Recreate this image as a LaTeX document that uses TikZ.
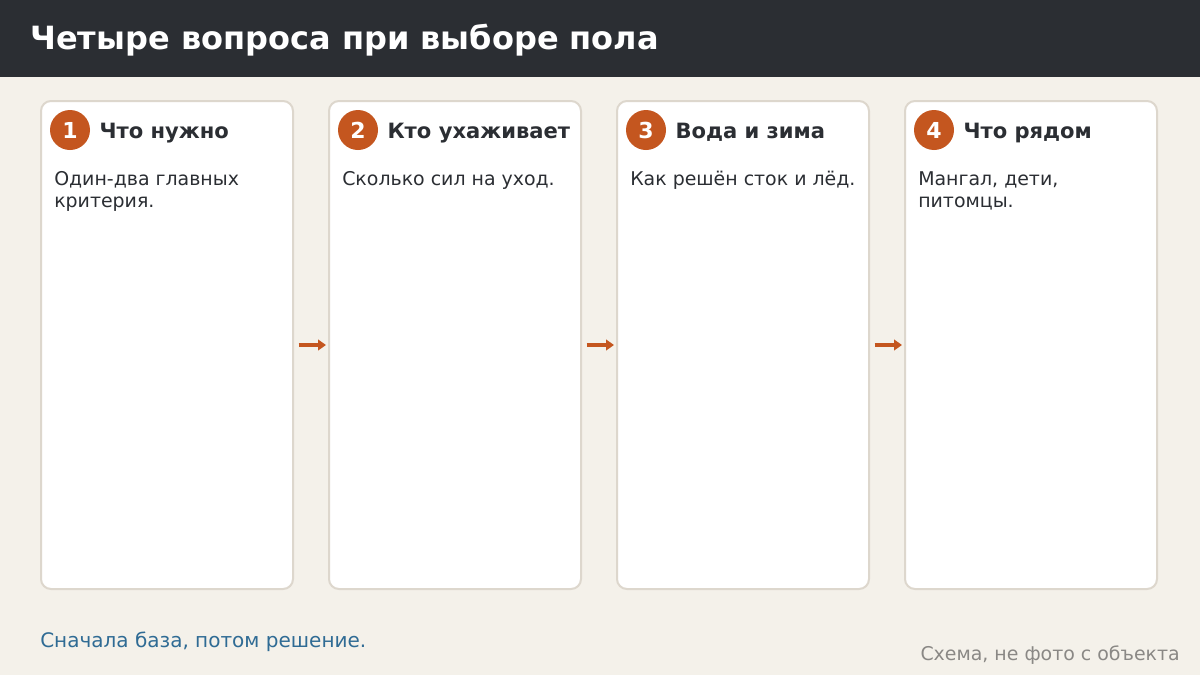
\documentclass[tikz,border=0pt]{standalone}
\usepackage{fontspec}
\setmainfont{DejaVu Sans}
\usetikzlibrary{positioning,arrows.meta}

\definecolor{pageBg}{HTML}{F4F1EA}
\definecolor{headBg}{HTML}{2B2E33}
\definecolor{cardLine}{HTML}{DDD7CD}
\definecolor{rust}{HTML}{C4561F}
\definecolor{ink}{HTML}{2B2E33}
\definecolor{noteBlue}{HTML}{2F6B94}
\definecolor{srcGray}{HTML}{8A8885}

\tikzset{
    card/.style={draw=cardLine, line width=1.5pt, fill=white, rounded corners=7.5pt,
        minimum width=189pt, minimum height=366pt, inner sep=0pt},
    badge/.style={circle, fill=rust, minimum size=30pt, inner sep=0pt,
        text=white, font=\bfseries\fontsize{16.5}{18}\selectfont},
    cardhead/.style={text=ink, anchor=base west, font=\bfseries\fontsize{15.8}{19}\selectfont, inner sep=0pt},
    cardbody/.style={text=ink, anchor=north west, align=left, font=\fontsize{14.2}{16.5}\selectfont, inner sep=0pt},
    flow/.style={draw=rust, line width=3pt, -{Triangle[length=6pt,width=8pt]},
        shorten <=3.5pt, shorten >=1.5pt},
}

\begin{document}
\begin{tikzpicture}[x=0.75pt, y=-0.75pt]
    \useasboundingbox (0,0) rectangle (1200,675);
    \fill[pageBg] (0,0) rectangle (1200,675);
    \fill[headBg] (0,0) rectangle (1200,77);
    \node[anchor=west, inner sep=0pt, text=white,
        font=\bfseries\fontsize{24}{28}\selectfont] (title) at (30,40)
        {Четыре вопроса при выборе пола};

    % cards
    \node[card] (card1) at (167,345) {};
    \node[card, right=25.5pt of card1] (card2) {};
    \node[card, right=25.5pt of card2] (card3) {};
    \node[card, right=25.5pt of card3] (card4) {};

    \node[badge] (badge1) at ([shift={(30,30)}]card1.north west) {1};
    \node[badge] (badge2) at ([shift={(30,30)}]card2.north west) {2};
    \node[badge] (badge3) at ([shift={(30,30)}]card3.north west) {3};
    \node[badge] (badge4) at ([shift={(30,30)}]card4.north west) {4};

    \node[cardhead] (head1) at ([shift={(9,8)}]badge1.east) {Что нужно};
    \node[cardhead] (head2) at ([shift={(9,8)}]badge2.east) {Кто ухаживает};
    \node[cardhead] (head3) at ([shift={(9,8)}]badge3.east) {Вода и зима};
    \node[cardhead] (head4) at ([shift={(9,8)}]badge4.east) {Что рядом};

    \node[cardbody] (body1) at ([shift={(14,71)}]card1.north west)
        {Один-два главных\\критерия.};
    \node[cardbody] (body2) at ([shift={(14,71)}]card2.north west)
        {Сколько сил на уход.};
    \node[cardbody] (body3) at ([shift={(14,71)}]card3.north west)
        {Как решён сток и лёд.};
    \node[cardbody] (body4) at ([shift={(14,71)}]card4.north west)
        {Мангал, дети,\\питомцы.};

    \draw[flow] (card1) -- (card2);
    \draw[flow] (card2) -- (card3);
    \draw[flow] (card3) -- (card4);

    % footer
    \node[anchor=west, inner sep=0pt, text=noteBlue,
        font=\fontsize{15}{18}\selectfont] (note) at (40,642)
        {Сначала база, потом решение.};
    \node[anchor=east, inner sep=0pt, text=srcGray,
        font=\fontsize{14.2}{17}\selectfont] (source) at (1180,655)
        {Схема, не фото с объекта};
\end{tikzpicture}
\end{document}
